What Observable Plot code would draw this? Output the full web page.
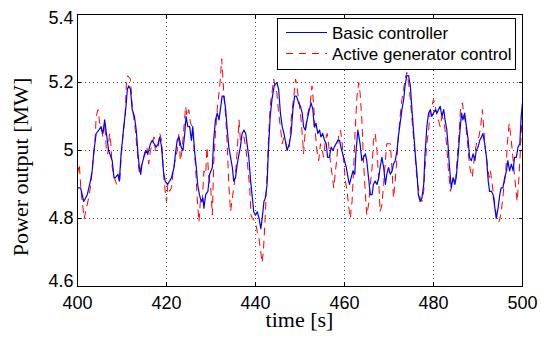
<!DOCTYPE html>
<html>
<head>
<meta charset="utf-8">
<script src="https://cdn.jsdelivr.net/npm/d3@7"></script>
<script src="https://cdn.jsdelivr.net/npm/@observablehq/plot@0.6"></script>
<style>
  html, body { margin: 0; padding: 0; background: #fff; }
  #chart { width: 541px; height: 338px; }
</style>
</head>
<body>
<div id="chart"></div>
<script>
// ---- data ----
const seriesNames = ["Basic controller", "Active generator control"];
const xTicks = [400, 420, 440, 460, 480, 500];
const yTicks = [4.6, 4.8, 5.0, 5.2, 5.4];
const xLabel = "time [s]";
const yLabel = "Power output [MW]";

const basicT = [400.0,400.7,401.4,402.2,402.9,403.3,403.7,404.2,404.8,405.3,405.7,406.1,406.5,407.0,407.8,408.2,408.5,409.1,409.4,409.8,410.4,410.9,411.2,411.5,411.9,412.3,412.8,413.2,413.6,413.9,414.2,414.5,414.9,415.4,415.8,416.4,416.8,417.2,417.7,418.1,418.5,418.9,419.3,419.7,420.2,420.7,421.1,421.7,422.0,422.4,422.8,423.3,423.7,424.1,424.4,424.8,425.2,425.6,425.9,426.3,426.7,427.0,427.4,427.8,428.2,428.4,428.8,429.3,429.7,430.3,430.6,431.0,431.4,431.8,432.1,432.5,432.9,433.3,433.6,434.0,434.4,434.8,435.1,435.5,435.9,436.3,436.6,437.0,437.4,437.8,438.1,438.5,438.9,439.3,439.6,440.0,440.4,440.8,441.2,441.5,441.9,442.2,442.6,442.9,443.3,443.7,444.2,444.8,445.2,445.6,446.0,446.4,446.7,447.1,447.6,448.0,448.4,448.8,449.2,449.7,450.1,450.5,450.8,451.2,451.6,452.1,452.5,452.9,453.2,453.6,454.0,454.4,454.7,455.1,455.5,455.9,456.2,456.6,457.0,457.4,457.7,458.1,458.5,458.9,459.2,459.6,460.0,460.4,460.8,461.1,461.5,461.9,462.3,462.6,463.0,463.5,463.9,464.3,464.7,465.0,465.4,465.8,466.2,466.5,466.9,467.3,467.7,468.0,468.4,468.8,469.2,469.5,469.9,470.3,470.7,471.0,471.4,471.8,472.1,472.5,472.9,473.3,473.6,474.0,474.4,474.8,475.1,475.5,475.9,476.3,476.6,477.0,477.4,477.8,478.1,478.5,478.9,479.3,479.6,480.0,480.4,480.8,481.1,481.5,481.9,482.3,482.6,483.0,483.3,483.6,484.0,484.4,484.8,485.1,485.5,485.9,486.3,486.6,487.0,487.4,487.8,488.1,488.5,488.9,489.3,489.6,490.0,490.4,490.8,491.1,491.5,491.9,492.3,492.6,493.0,493.4,493.7,494.1,494.5,494.9,495.2,495.6,496.0,496.4,496.7,497.1,497.5,497.9,498.2,498.6,499.0,499.4,499.7,500.0];
const basicV = [4.89,4.89,4.85,4.87,4.91,4.94,5.00,5.05,5.06,5.07,5.05,5.09,5.05,5.00,4.97,4.92,4.92,4.93,4.91,4.99,5.07,5.13,5.18,5.19,5.18,5.12,5.10,5.06,4.99,4.95,4.93,4.96,4.98,5.00,4.99,5.02,5.03,5.02,5.01,5.02,5.04,5.01,4.94,4.91,4.90,4.91,4.92,4.95,4.99,5.03,5.04,5.01,5.00,5.05,5.10,5.07,5.07,5.03,5.07,5.00,4.95,4.90,4.87,4.85,4.86,4.83,4.87,4.88,4.93,4.95,5.03,5.09,5.11,5.09,5.12,5.16,5.16,5.12,5.07,5.01,4.98,4.95,4.91,4.92,4.96,4.99,5.01,5.05,5.06,5.05,5.02,4.98,4.91,4.86,4.82,4.81,4.82,4.80,4.77,4.80,4.85,4.86,4.90,5.00,5.10,5.15,5.19,5.20,5.18,5.11,5.07,5.05,5.03,5.00,5.02,5.05,5.12,5.16,5.16,5.14,5.13,5.11,5.07,5.06,5.09,5.12,5.14,5.12,5.07,5.08,5.05,5.06,5.04,5.05,5.03,5.02,4.98,4.98,5.01,5.00,5.01,5.02,5.03,5.03,5.01,4.99,4.97,4.95,4.92,4.90,4.92,4.94,4.93,5.00,5.06,5.02,4.97,4.98,4.99,4.97,4.92,4.87,4.87,4.90,4.91,4.90,4.92,4.95,4.98,4.95,4.90,4.93,4.95,4.93,4.94,4.96,4.97,5.00,5.04,5.08,5.12,5.15,5.19,5.22,5.22,5.19,5.13,5.06,4.99,4.93,4.87,4.85,4.86,4.90,4.99,5.07,5.11,5.12,5.10,5.11,5.12,5.11,5.12,5.13,5.10,5.12,5.09,5.06,5.01,4.95,4.89,4.92,4.90,4.92,4.98,5.05,5.11,5.09,5.11,5.07,5.03,4.98,4.97,4.99,4.97,5.00,5.01,5.03,5.04,5.05,5.02,4.98,4.91,4.88,4.88,4.87,4.84,4.80,4.83,4.87,4.89,4.89,4.92,4.94,4.97,4.94,4.96,4.94,4.98,4.98,5.01,5.02,5.10,5.14];

const activeT = [400.0,400.4,400.8,401.5,402.0,402.5,403.0,403.5,403.9,404.2,404.6,405.0,405.3,405.7,406.1,406.5,406.8,407.2,407.5,407.8,408.3,408.8,409.5,409.8,410.2,410.7,411.0,411.3,411.9,412.3,412.6,413.0,413.4,413.9,414.2,414.7,415.2,415.6,416.0,416.4,416.8,417.2,417.5,418.1,418.5,418.9,419.4,419.8,420.0,420.3,420.7,421.1,421.6,422.4,422.8,423.1,423.5,424.3,424.6,425.0,425.4,425.8,426.1,426.5,426.9,427.3,427.6,428.0,428.4,428.8,429.1,429.5,429.9,430.3,430.6,431.0,431.4,431.8,432.1,432.4,432.6,432.9,433.3,433.6,434.0,434.4,434.8,435.1,435.5,435.9,436.3,436.6,437.0,437.4,437.9,438.2,438.7,439.0,439.3,440.0,440.4,440.8,441.1,441.5,441.8,442.2,442.6,442.9,443.3,443.7,444.1,444.5,444.8,445.2,445.6,446.0,446.4,446.7,447.1,447.6,448.0,448.6,449.0,449.3,449.7,450.1,450.5,450.8,451.2,451.6,452.3,452.7,453.1,453.4,453.8,454.2,454.6,455.0,455.3,455.7,456.1,456.5,456.8,457.2,457.6,457.9,458.3,458.7,459.1,459.4,459.8,460.2,460.6,460.9,461.3,461.7,462.0,462.4,462.8,463.2,463.5,463.9,464.3,464.7,465.0,465.4,465.8,466.2,466.5,466.9,467.3,467.7,468.0,468.4,468.8,469.2,469.5,469.9,470.3,470.7,471.0,471.4,471.8,472.1,472.5,472.9,473.3,473.6,474.0,474.4,474.8,475.1,475.5,475.9,476.3,476.6,477.0,477.4,477.8,478.1,478.5,478.9,479.3,479.6,480.0,480.4,480.8,481.1,481.5,481.9,482.3,482.6,483.0,483.3,483.8,484.2,484.6,485.0,485.3,485.7,486.1,486.5,486.8,487.2,487.6,488.0,488.3,488.7,489.1,489.5,489.8,490.2,490.6,491.0,491.3,491.7,492.1,492.5,492.8,493.2,493.6,494.0,494.3,494.7,495.1,495.5,495.8,496.2,496.6,497.0,497.3,497.7,498.1,498.5,498.8,499.2,499.6,500.0];
const activeV = [4.93,4.96,4.88,4.80,4.83,4.86,4.90,4.97,5.02,5.10,5.12,5.08,5.07,5.04,5.08,5.00,4.99,5.05,5.02,4.95,4.92,4.90,4.91,4.98,5.04,5.10,5.20,5.22,5.21,5.13,5.10,5.06,5.00,4.93,4.95,4.97,5.00,5.01,4.96,5.00,5.02,5.04,5.00,5.00,5.05,5.03,4.92,4.87,4.85,4.90,4.88,4.89,4.95,5.00,5.05,4.97,5.00,5.13,5.10,5.12,5.08,5.07,5.02,4.96,4.86,4.79,4.85,4.84,4.94,4.93,5.01,4.92,4.90,4.81,4.96,5.05,5.12,5.17,5.21,5.27,5.23,5.16,5.10,5.03,4.90,4.82,4.86,4.89,4.93,5.00,5.09,5.03,5.04,5.04,5.00,4.96,4.89,4.81,4.80,4.79,4.76,4.74,4.71,4.67,4.71,4.81,4.93,5.03,5.13,5.17,5.21,5.18,5.17,5.11,5.07,5.02,5.04,5.03,5.00,5.01,5.09,5.16,5.21,5.19,5.15,5.11,5.05,4.99,5.06,5.10,5.14,5.19,5.13,5.06,5.00,4.97,5.02,5.00,4.98,5.03,5.05,5.01,4.97,4.93,4.89,4.93,4.98,5.05,5.06,5.03,4.97,4.91,4.88,4.84,4.80,4.85,4.93,5.06,5.16,5.20,5.17,5.09,4.96,4.87,4.81,4.84,4.90,4.95,5.03,5.05,5.00,4.91,4.82,4.84,4.90,4.97,5.02,5.02,5.02,4.94,4.86,4.91,4.98,5.04,5.10,5.15,5.18,5.21,5.23,5.20,5.15,5.10,5.04,4.98,4.91,4.89,4.86,4.85,4.88,4.95,5.02,5.06,5.12,5.13,5.15,5.13,5.10,5.09,5.07,5.10,5.09,5.06,5.01,4.95,4.88,4.90,4.91,4.92,4.97,5.04,5.13,5.14,5.11,5.08,5.03,4.97,4.94,4.92,4.97,5.01,5.03,5.04,5.07,5.12,5.06,5.00,4.96,4.92,4.94,4.90,4.86,4.82,4.80,4.79,4.81,4.85,4.89,4.93,5.02,5.08,5.05,5.00,4.94,4.89,4.85,4.92,5.02,5.12];

// ---- build tables ----
const basic = basicT.map((t, i) => ({t, v: basicV[i]}));
const active = activeT.map((t, i) => ({t, v: activeV[i]}));

const fmtY = d => String(+d.toFixed(1));
const sans = "'Liberation Sans', Arial, Helvetica, sans-serif";
const serif = "'Liberation Serif', 'Times New Roman', serif";

const chart = Plot.plot({
  width: 541,
  height: 338,
  marginLeft: 77,
  marginRight: 19,
  marginTop: 14,
  marginBottom: 52,
  style: {fontFamily: sans, fontSize: "18px", background: "#fff", color: "#000", overflow: "visible"},
  x: {domain: [400, 500]},
  y: {domain: [4.6, 5.4]},
  marks: [
    Plot.gridX(xTicks, {stroke: "#000", strokeOpacity: 0.75, strokeDasharray: "1,3"}),
    Plot.gridY(yTicks, {stroke: "#000", strokeOpacity: 0.75, strokeDasharray: "1,3"}),
    Plot.line(active, {x: "t", y: "v", stroke: "#ff0000", strokeWidth: 1, strokeDasharray: "7,6"}),
    Plot.line(basic, {x: "t", y: "v", stroke: "#0000ff", strokeWidth: 1.2}),
    Plot.axisX(xTicks, {anchor: "bottom", tickSize: 0, tickPadding: 10, label: null, fontSize: 18}),
    Plot.axisX(xTicks, {anchor: "bottom", tickSize: 4, text: null, dy: -4, label: null}),
    Plot.axisX(xTicks, {anchor: "top", tickSize: 4, text: null, dy: 4, label: null}),
    Plot.axisY(yTicks.slice(1, 4), {anchor: "left", tickSize: 0, tickPadding: 4, tickFormat: fmtY, label: null, fontSize: 18}),
    Plot.axisY([yTicks[4]], {anchor: "left", tickSize: 0, tickPadding: 4, tickFormat: fmtY, label: null, fontSize: 18, dy: 4}),
    Plot.axisY([yTicks[0]], {anchor: "left", tickSize: 0, tickPadding: 4, tickFormat: fmtY, label: null, fontSize: 18, dy: -5}),
    Plot.axisY(yTicks, {anchor: "left", tickSize: 4, text: null, dx: 4, label: null}),
    Plot.axisY(yTicks, {anchor: "right", tickSize: 4, text: null, dx: -4, label: null}),
    Plot.frame({stroke: "#000", strokeWidth: 1})
  ]
});

document.getElementById("chart").appendChild(chart);

// ---- axis titles and legend ----
const svg = d3.select(chart);
svg.append("text")
  .attr("x", 299.5).attr("y", 327)
  .attr("text-anchor", "middle")
  .attr("font-family", serif).attr("font-size", 22).attr("fill", "#000")
  .text(xLabel);
svg.append("text")
  .attr("transform", "translate(28,167) rotate(-90)")
  .attr("text-anchor", "middle")
  .attr("font-family", serif).attr("font-size", 22).attr("fill", "#000")
  .text(yLabel);

const lg = svg.append("g").attr("text-anchor", "start");
lg.append("rect")
  .attr("x", 277.5).attr("y", 18.5).attr("width", 238).attr("height", 51)
  .attr("fill", "#fff").attr("stroke", "#000").attr("stroke-width", 1);
const legendItems = [
  {name: seriesNames[0], color: "#0000ff", dash: "none", w: 1.2, y: 32.5},
  {name: seriesNames[1], color: "#ff0000", dash: "7,6", w: 1, y: 53.5}
];
legendItems.forEach(it => {
  lg.append("path")
    .attr("d", `M286,${it.y}H327`)
    .attr("fill", "none")
    .attr("stroke", it.color).attr("stroke-width", it.w)
    .attr("stroke-dasharray", it.dash);
  lg.append("text")
    .attr("x", 332).attr("y", it.y + 6.5)
    .attr("text-anchor", "start")
    .attr("font-family", sans).attr("font-size", 17).attr("fill", "#000")
    .text(it.name);
});
</script>
</body>
</html>
